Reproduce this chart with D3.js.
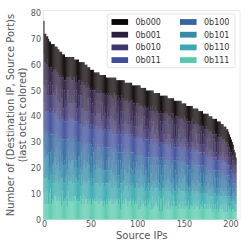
<!DOCTYPE html>
<html>
<head>
<meta charset="utf-8">
<script src="https://cdn.jsdelivr.net/npm/d3@7"></script>
<style>
  html, body { margin: 0; padding: 0; background: #fff; }
  svg { display: block; font-family: 'DejaVu Sans', sans-serif; }
</style>
</head>
<body>
<div id="root"></div>
<script>
const SVG_WIDTH = 249;
const SVG_HEIGHT = 249;
const PLOT = { left: 43.5, right: 240, top: 10.5, bottom: 219.5 };

// last-octet bit patterns, legend order
const seriesKeys = ['0b000', '0b001', '0b010', '0b011', '0b100', '0b101', '0b110', '0b111'];
const seriesColors = ['#0b0405', '#2d1e3e', '#40366e', '#3f4e9a', '#35679f', '#358ca8', '#3aaaae', '#58caac'];
const xTicks = [0, 50, 100, 150, 200];
const yTicks = [0, 10, 20, 30, 40, 50, 60, 70, 80];

// counts per source IP (sorted by total), one array per bit pattern
const b111 = [10,6,12,6,11,6,10,12,6,8, 7,10,9,9,7,9,8,7,9,5, 11,7,8,7,9,5,11,7,8,7, 7,9,7,9,9,7,8,7,7,9,
  6,8,10,6,9,8,8,6,8,7, 8,6,8,7,8,7,9,7,8,6, 8,7,8,7,5,7,6,8,6,8, 7,8,8,6,8,6,8,7,8,8, 6,8,4,10,6,7,6,8,8,7,
  5,7,7,8,5,7,8,6,7,6, 8,4,9,4,5,8,6,7,5,7, 5,8,6,7,8,4,9,4,5,8, 6,7,5,9,3,8,8,3,9,5, 6,7,4,8,7,4,5,7,5,9,
  7,5,5,7,4,6,7,4,5,7, 4,5,7,5,5,7,4,6,5,5, 7,4,6,5,7,5,7,4,6,5, 7,4,6,6,4,6,4,7,5,4, 6,3,6,4,6,4,7,3,4,6,
  5,4,6,3,6,3,6,3,5,4, 5,3,4,4,3,3,3];
const b110 = [6,10,4,10,6,9,5,6,11,6, 10,4,8,6,11,6,6,8,7,11, 5,7,6,9,8,8,6,8,7,8, 9,5,10,5,7,9,6,8,10,4,
  11,5,5,10,5,7,6,9,8,8, 5,10,5,9,6,7,5,7,6,9, 5,9,6,7,9,6,8,6,8,6, 8,6,4,9,4,10,5,8,6,4, 9,4,10,4,8,4,9,5,5,6,
  9,4,7,5,8,7,5,6,5,8, 6,8,3,8,8,5,7,5,9,4, 7,5,8,4,4,9,4,7,7,4, 7,5,7,3,8,5,3,9,3,7, 7,4,9,4,4,7,8,3,8,3,
  4,6,8,3,8,6,4,7,7,4, 7,8,3,6,8,3,8,3,6,7, 4,7,4,6,4,6,3,7,4,5, 3,7,4,4,6,4,7,2,4,7, 3,7,3,6,4,5,3,6,6,3,
  4,5,4,5,3,6,3,5,4,5, 3,4,4,3,4,3,3];
const b101 = [12,8,11,9,8,11,5,8,10,7, 5,12,7,13,3,12,8,4,11,6, 9,7,9,5,7,6,10,8,7,10, 7,9,9,6,9,7,6,9,8,7,
  9,6,6,11,9,5,8,7,9,6, 5,8,7,10,7,5,9,7,9,5, 10,4,10,5,8,6,5,9,5,10, 9,5,8,8,6,10,4,6,9,5, 8,5,9,5,8,4,9,6,8,5,
  4,10,9,4,7,5,9,5,8,8, 5,9,4,8,6,8,4,9,3,8, 8,3,10,3,9,5,8,4,8,3, 5,9,3,9,3,8,6,8,3,9, 8,4,8,4,7,4,7,4,8,4,
  4,8,4,4,8,4,7,3,8,5, 8,4,8,3,8,3,7,4,7,3, 7,3,8,2,8,4,7,3,8,4, 3,7,4,7,3,7,3,7,3,7, 4,6,3,7,6,3,6,3,6,3,
  6,3,5,3,6,3,6,3,5,3, 5,2,4,3,4,3,3];
const b100 = [6,11,6,8,9,6,14,7,6,12, 10,7,8,6,12,3,10,12,5,10, 6,10,8,9,7,12,4,10,10,5, 8,9,5,10,7,9,10,6,5,10,
  6,9,9,4,6,10,7,8,5,8, 12,5,8,5,6,11,4,8,5,8, 5,10,3,10,6,8,9,5,9,4, 4,9,7,5,8,4,10,7,4,9, 6,9,3,10,4,11,3,8,4,9,
  10,4,4,9,6,7,4,8,5,3, 8,4,9,5,7,4,8,3,10,5, 5,8,2,10,4,6,4,9,4,9, 7,3,9,3,9,3,6,4,9,2, 4,8,3,7,5,9,3,8,3,7,
  8,4,7,9,2,8,4,8,3,6, 3,7,4,7,3,8,4,7,4,8, 4,7,3,9,2,7,4,7,2,7, 8,2,7,3,7,3,7,3,6,2, 7,3,7,2,3,7,2,7,3,6,
  3,6,4,6,3,5,3,6,3,5, 3,6,3,4,3,4,3];
const b011 = [11,7,11,9,8,10,7,10,8,9, 11,8,9,7,10,9,8,7,10,7, 9,8,7,9,8,7,10,6,8,9, 8,7,9,8,6,9,8,7,9,7,
  8,9,6,8,7,8,9,7,8,6, 7,8,7,6,8,6,9,7,6,8, 7,6,8,7,6,8,7,6,8,7, 6,7,8,6,7,6,7,8,6,7, 6,8,7,5,7,6,7,6,8,6,
  6,7,6,7,6,7,6,7,6,7, 5,7,6,7,6,6,7,6,5,7, 6,7,6,5,6,7,6,5,7,6, 6,5,7,6,5,6,7,5,6,6, 5,6,7,6,5,6,6,5,6,5,
  6,5,6,5,6,5,6,5,6,5, 6,5,6,6,5,6,5,6,5,5, 5,6,5,5,6,5,5,5,6,5, 4,6,5,5,5,4,5,5,6,5, 4,5,4,5,5,5,5,4,5,5,
  4,5,4,5,4,5,4,4,4,4, 3,4,3,4,3,3,3];
const b010 = [7,12,7,12,6,10,7,10,7,10, 6,9,7,11,8,7,9,7,9,8, 10,4,12,7,5,12,9,6,8,6, 6,9,6,12,7,9,5,11,5,11,
  8,6,7,10,6,8,4,10,9,7, 10,4,10,4,9,4,10,5,9,5, 6,10,3,9,6,9,6,5,8,5, 5,8,5,10,6,8,4,9,6,8, 9,3,9,5,9,5,8,5,9,4,
  9,5,8,4,6,9,4,8,5,9, 4,8,5,9,5,8,8,4,8,4, 5,8,3,9,3,8,5,9,7,3, 4,8,8,4,4,8,4,8,8,4, 8,2,8,4,9,3,8,4,8,3,
  8,4,7,3,7,4,8,3,7,4, 7,3,7,4,8,3,4,8,3,7, 3,8,2,8,6,3,3,7,3,8, 4,7,3,7,3,7,6,3,7,2, 3,7,3,7,6,2,7,2,6,3,
  3,6,3,7,2,5,3,7,3,5, 5,2,5,2,4,3,3];
const b001 = [12,7,10,6,14,7,10,6,11,5, 9,8,10,6,6,11,7,10,5,8, 6,12,4,8,11,5,5,10,7,11, 9,6,9,5,8,6,10,6,10,4,
  6,10,10,3,10,5,11,4,5,9, 3,10,5,9,6,10,3,10,6,8, 8,4,11,4,9,5,7,10,4,9, 9,6,8,4,8,5,11,3,9,5, 4,10,4,9,5,9,5,8,4,9,
  4,8,5,9,8,4,9,5,8,4, 9,5,8,4,7,5,4,9,4,9, 7,4,9,4,10,3,8,4,4,8, 9,5,3,7,9,4,7,4,3,8, 4,10,3,8,3,7,4,8,3,10,
  2,8,3,9,4,7,3,9,3,8, 3,8,4,7,2,8,6,3,8,4, 7,2,9,3,4,7,8,3,7,3, 7,3,6,3,8,4,3,7,3,7, 8,2,7,3,3,7,2,7,3,6,
  7,3,5,2,7,3,5,2,5,2, 3,5,2,5,2,3,3];
const b000 = [13,11,11,11,9,11,11,10,9,11, 10,10,9,9,10,9,10,10,9,10, 8,9,10,9,8,8,8,8,8,7, 9,9,8,7,9,6,9,8,7,9,
  7,8,8,9,8,9,7,8,7,8, 8,7,8,8,7,7,8,6,8,8, 7,6,7,7,7,7,8,6,7,6, 7,6,7,7,8,6,6,7,6,8, 6,7,8,6,7,8,7,7,7,7,
  6,8,7,7,7,6,7,7,8,7, 7,7,8,7,7,7,7,8,7,7, 7,7,6,8,6,8,6,8,7,8, 5,7,7,8,8,6,7,7,7,7, 6,7,6,6,7,7,6,8,6,6,
  7,6,6,6,7,6,7,7,6,6, 7,5,6,6,5,6,6,7,6,5, 6,6,6,5,6,6,5,6,6,5, 6,5,6,6,5,6,6,6,6,6, 5,6,6,5,6,6,6,6,5,6,
  5,5,6,5,5,6,5,5,5,5, 5,5,5,4,4,4,3];

/**
 * 添加svg容器
 */
function addSvg() {
  const svg = document.createElementNS('http://www.w3.org/2000/svg', 'svg');
  svg.id = 'svg';
  svg.setAttribute('width', SVG_WIDTH);
  svg.setAttribute('height', SVG_HEIGHT);
  return svg;
}

function buildRows() {
  const cols = { '0b000': b000, '0b001': b001, '0b010': b010, '0b011': b011,
    '0b100': b100, '0b101': b101, '0b110': b110, '0b111': b111 };
  return b000.map((_, i) => {
    const row = { i };
    seriesKeys.forEach((k) => { row[k] = cols[k][i]; });
    return row;
  });
}

function main() {
  const svg = d3.select('#svg');
  const rows = buildRows();
  const xScale = d3.scaleLinear().domain([-0.5, 210.2]).range([PLOT.left, PLOT.right]);
  const yScale = d3.scaleLinear().domain([0, 81]).range([PLOT.bottom, PLOT.top]);
  const color = d3.scaleOrdinal().domain(seriesKeys).range(seriesColors);

  // 0b111 at the bottom, 0b000 on top
  const stackKeys = seriesKeys.slice().reverse();
  const stacked = d3.stack().keys(stackKeys)(rows);

  svg.append('rect')
    .attr('x', PLOT.left).attr('y', PLOT.top)
    .attr('width', PLOT.right - PLOT.left).attr('height', PLOT.bottom - PLOT.top)
    .attr('fill', 'none').attr('stroke', '#e4e4e4').attr('stroke-width', 0.8);

  svg.append('g')
    .selectAll('g')
    .data(stacked)
    .join('g')
    .attr('fill', (d) => color(d.key))
    .selectAll('rect')
    .data((d) => d)
    .join('rect')
    .attr('x', (d) => xScale(d.data.i - 0.5))
    .attr('width', xScale(1) - xScale(0))
    .attr('y', (d) => yScale(d[1]))
    .attr('height', (d) => yScale(d[0]) - yScale(d[1]));

  const yAxis = svg.append('g')
    .attr('transform', `translate(${PLOT.left},0)`)
    .call(d3.axisLeft(yScale).tickValues(yTicks).tickSize(0).tickPadding(2.5));
  const xAxis = svg.append('g')
    .attr('transform', `translate(0,${PLOT.bottom})`)
    .call(d3.axisBottom(xScale).tickValues(xTicks).tickSize(0).tickPadding(1.5));
  [xAxis, yAxis].forEach((ax) => {
    ax.select('.domain').remove();
    ax.selectAll('text').attr('font-size', 8).attr('fill', '#555').attr('font-family', 'DejaVu Sans');
  });

  svg.append('text')
    .attr('x', (PLOT.left + PLOT.right) / 2).attr('y', 238.5)
    .attr('text-anchor', 'middle').attr('font-size', 10).attr('fill', '#555')
    .text('Source IPs');

  const cy = (PLOT.top + PLOT.bottom) / 2;
  ['Number of (Destination IP, Source Port)s', '(last octet colored)'].forEach((t, k) => {
    svg.append('text')
      .attr('transform', `translate(${13.5 + k * 12.5},${cy}) rotate(-90)`)
      .attr('text-anchor', 'middle').attr('font-size', 10).attr('fill', '#555')
      .text(t);
  });

  // legend, two columns of four
  const legend = svg.append('g');
  legend.append('rect')
    .attr('x', 107.3).attr('y', 14).attr('width', 127.7).attr('height', 53.7)
    .attr('rx', 2).attr('fill', '#fff').attr('fill-opacity', 0.8)
    .attr('stroke', '#dcdcdc').attr('stroke-width', 0.8);
  seriesKeys.forEach((k, j) => {
    const col = Math.floor(j / 4);
    const row = j % 4;
    const lx = 111.5 + col * 68.5;
    const ly = 22 + row * 12.7;
    legend.append('rect')
      .attr('x', lx).attr('y', ly - 2.9).attr('width', 16.6).attr('height', 5.8)
      .attr('fill', color(k));
    legend.append('text')
      .attr('x', lx + 24).attr('y', ly).attr('dy', '0.35em')
      .attr('font-size', 8).attr('fill', '#333')
      .text(k);
  });
}

const root = document.getElementById('root');
root.appendChild(addSvg());
main();
</script>
</body>
</html>
